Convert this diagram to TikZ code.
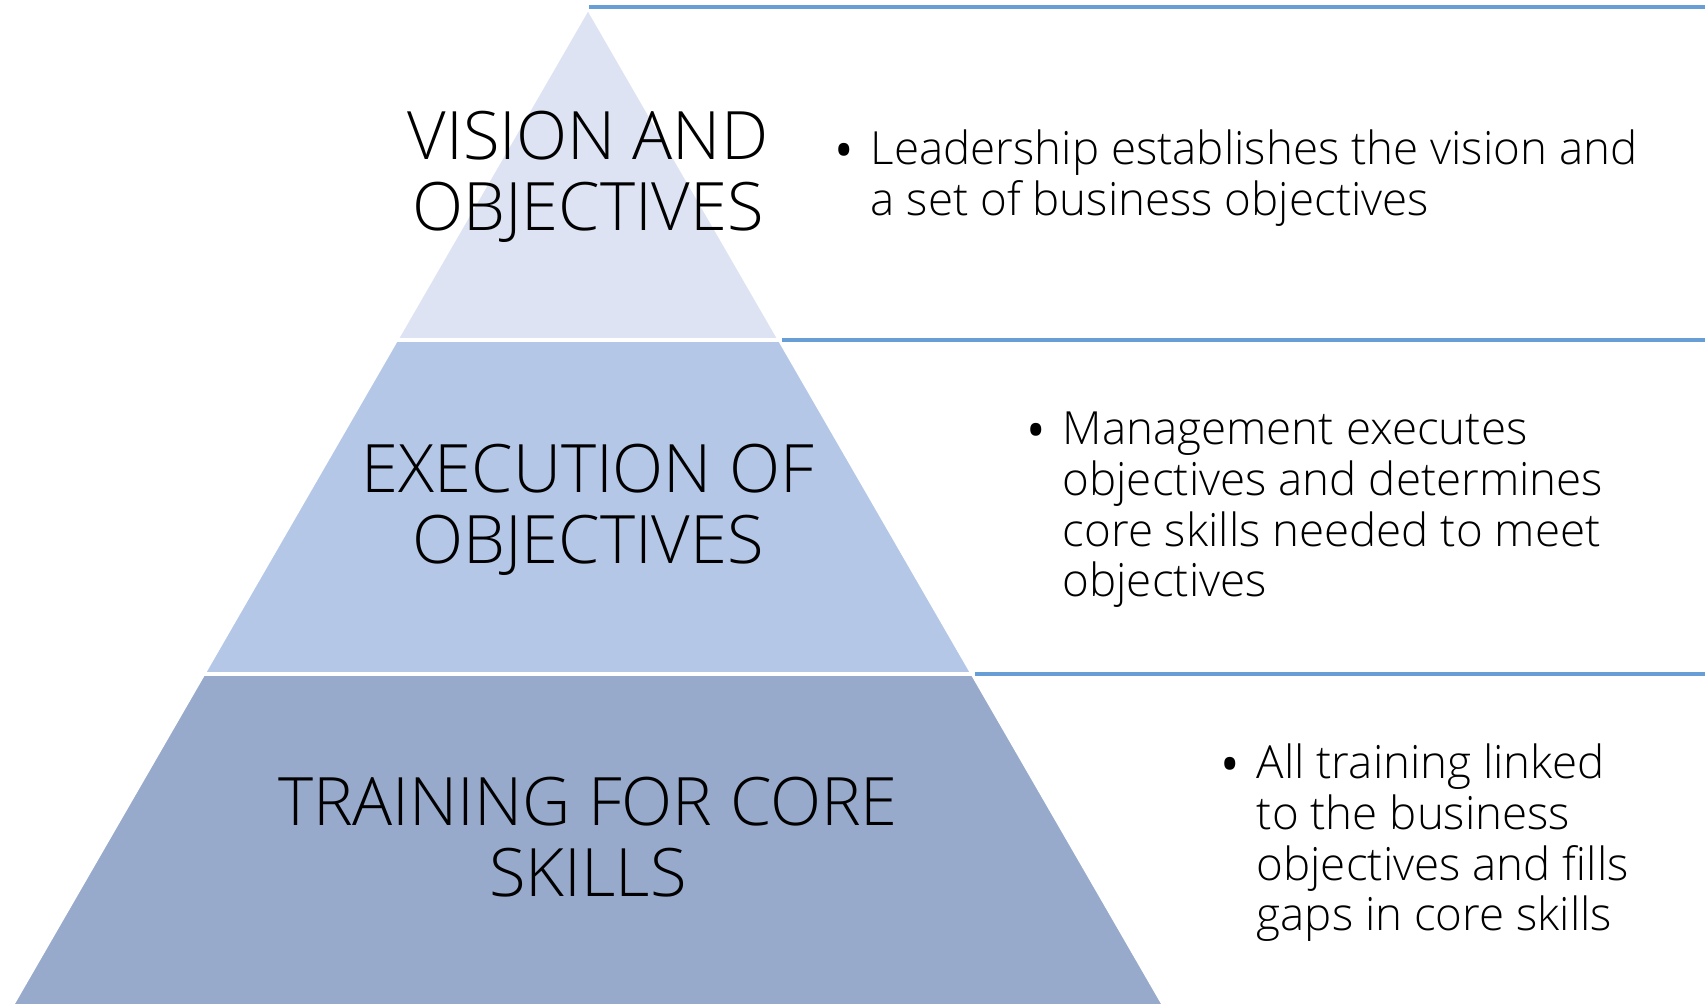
\documentclass[tikz,border=0pt]{standalone}
\usepackage{fontspec}
\setmainfont{Open Sans Light}
\usepackage{tikz}
\definecolor{tierA}{RGB}{221,227,242}
\definecolor{tierB}{RGB}{180,199,231}
\definecolor{tierC}{RGB}{151,170,203}
\definecolor{ruleblue}{RGB}{104,158,214}
\newcommand{\notedot}{\makebox[0.40cm][l]{\raisebox{-0.25em}{\scalebox{1.6}{\textbullet}}}}

\begin{document}
\begin{tikzpicture}[tier_box/.style={draw=white, line width=1pt},
    head_text/.style={align=center, inner sep=0pt, font=\fontsize{19}{20.2}\selectfont},
    note_text/.style={anchor=base west, inner sep=0pt, font=\fontsize{13}{14.4}\selectfont},
    rule_line/.style={draw=ruleblue, line width=0.9pt}]
    \useasboundingbox (0,0) rectangle (17.05,10.04);
    \coordinate (apex) at (5.88,9.96);
    \coordinate (1l) at (3.963,6.64);
    \coordinate (1r) at (7.797,6.64);
    \coordinate (2l) at (2.035,3.30);
    \coordinate (2r) at (9.725,3.30);
    \coordinate (3l) at (0.10,-0.05);
    \coordinate (3r) at (11.66,-0.05);
    \fill[tierA, tier_box] (apex) -- (1l) -- (1r) -- cycle;
    \fill[tierB, tier_box] (1l) -- (2l) -- (2r) -- (1r) -- cycle;
    \fill[tierC, tier_box] (2l) -- (3l) -- (3r) -- (2r) -- cycle;
    % rules to the right edge
    \coordinate (e1) at (17.05,9.97);
    \coordinate (e2) at (17.05,6.64);
    \coordinate (e3) at (17.05,3.30);
    \draw[rule_line] (5.89,9.97) -- (e1);
    \draw[rule_line] (7.82,6.64) -- (e2);
    \draw[rule_line] (9.75,3.30) -- (e3);
    \node[head_text] (vision) at (5.88,8.27) {VISION AND\\OBJECTIVES};
    \node[head_text] (exec) at (5.88,4.94) {EXECUTION OF\\OBJECTIVES};
    \node[head_text] (train) at (5.88,1.67) {TRAINING FOR CORE\\SKILLS};
    \node[note_text] (lead) at (8.30,8.39) {\notedot\begin{tabular}[t]{@{}l@{}}Leadership establishes the vision and\\a set of business objectives\end{tabular}};
    \node[note_text] (mgmt) at (10.22,5.59) {\notedot\begin{tabular}[t]{@{}l@{}}Management executes\\objectives and determines\\core skills needed to meet\\objectives\end{tabular}};
    \node[note_text] (all) at (12.16,2.25) {\notedot\begin{tabular}[t]{@{}l@{}}All training linked\\to the business\\objectives and fills\\gaps in core skills\end{tabular}};
\end{tikzpicture}
\end{document}
